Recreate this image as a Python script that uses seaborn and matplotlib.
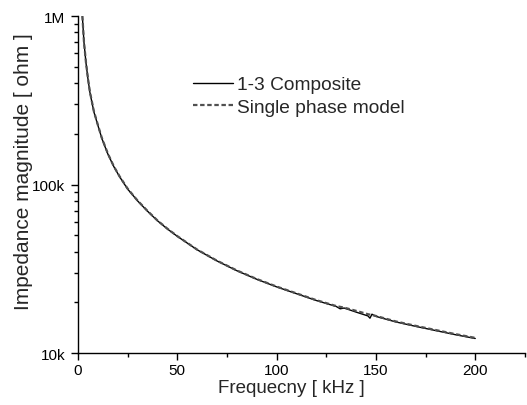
import numpy as np
import pandas as pd
import matplotlib
matplotlib.use("Agg")
import matplotlib.pyplot as plt
import matplotlib.ticker as mticker
import seaborn as sns

freq_khz = [2.2, 3, 4, 5, 6, 8, 10, 12, 15, 18, 21, 25, 30, 35, 40, 45, 50, 60, 70, 80,
            90, 100, 110, 120, 130, 132, 134, 140, 146, 147, 148, 150, 160, 170, 180, 190, 200]
composite_kohm = [1000, 700, 530, 425, 352, 270, 225, 188, 152, 128, 111, 94, 80, 69.5, 61,
                  54.5, 49.3, 41.0, 35.2, 30.8, 27.4, 24.7, 22.5, 20.5, 18.9, 18.3, 18.5,
                  17.5, 16.6, 16.1, 17.0, 16.5, 15.3, 14.4, 13.6, 12.85, 12.2]
model_kohm = [1000, 705, 532, 428, 355, 272, 226, 189, 153, 128.5, 111.5, 94.5, 80.3, 69.7,
              61.2, 54.7, 49.4, 41.1, 35.3, 30.9, 27.5, 24.8, 22.6, 20.6, 19.0, 18.8, 18.6,
              17.8, 17.0, 16.9, 16.8, 16.6, 15.4, 14.5, 13.7, 12.95, 12.3]
series_names = ["1-3 Composite", "Single phase model"]
y_tick_values = [1e4, 1e5, 1e6]
y_tick_labels = ["10k", "100k", "1M"]
x_tick_values = [0, 50, 100, 150, 200]

sns.set_style("ticks")
plt.rcParams["font.family"] = ["Liberation Sans", "DejaVu Sans"]

df = pd.DataFrame({
    "f": freq_khz * 2,
    "Z": [v * 1000 for v in composite_kohm] + [v * 1000 for v in model_kohm],
    "series": [series_names[0]] * len(freq_khz) + [series_names[1]] * len(freq_khz),
})

fig = plt.figure(figsize=(5.27, 4.06), dpi=100)
ax = fig.add_axes([0.148, 0.128, 0.848, 0.830])

sns.lineplot(data=df[df.series == series_names[0]], x="f", y="Z", ax=ax,
             color="black", lw=1.0, label=series_names[0])
sns.lineplot(data=df[df.series == series_names[1]], x="f", y="Z", ax=ax,
             color="#505050", lw=1.6, linestyle=(0, (2.0, 1.2)), label=series_names[1])

ax.set_yscale("log")
ax.set_ylim(1e4, 1e6)
ax.set_xlim(0, 225)
ax.yaxis.set_major_locator(mticker.FixedLocator(y_tick_values))
ax.yaxis.set_major_formatter(mticker.FixedFormatter(y_tick_labels))
ax.yaxis.set_minor_locator(mticker.LogLocator(base=10, subs=np.arange(2, 10)))
ax.yaxis.set_minor_formatter(mticker.NullFormatter())
ax.xaxis.set_major_locator(mticker.FixedLocator(x_tick_values))
ax.xaxis.set_minor_locator(mticker.MultipleLocator(25))

ax.tick_params(which="major", direction="out", length=5, width=1, labelsize=11,
               colors="black")
ax.tick_params(which="minor", direction="out", length=3, width=1, colors="black")
ax.tick_params(axis="x", which="major", pad=2.5)
ax.tick_params(axis="y", which="major", pad=4)
for s in ["top", "right"]:
    ax.spines[s].set_visible(False)
for s in ["left", "bottom"]:
    ax.spines[s].set_linewidth(1.0)
    ax.spines[s].set_color("black")

ax.set_xlabel("Frequecny [ kHz ]", fontsize=13.5)
ax.set_ylabel("Impedance magnitude [ ohm ]", fontsize=15)
ax.xaxis.set_label_coords(0.4776, -0.0757)
ax.yaxis.set_label_coords(-0.100, 0.54)

leg = ax.legend(loc="upper left", bbox_to_anchor=(193 / 527, 1 - 77 / 406),
                bbox_transform=fig.transFigure, frameon=False,
                fontsize=13.8, handlelength=2.1, handletextpad=0.22, labelspacing=0.25,
                borderaxespad=0, borderpad=0)

fig.savefig("out.png", dpi=100)
